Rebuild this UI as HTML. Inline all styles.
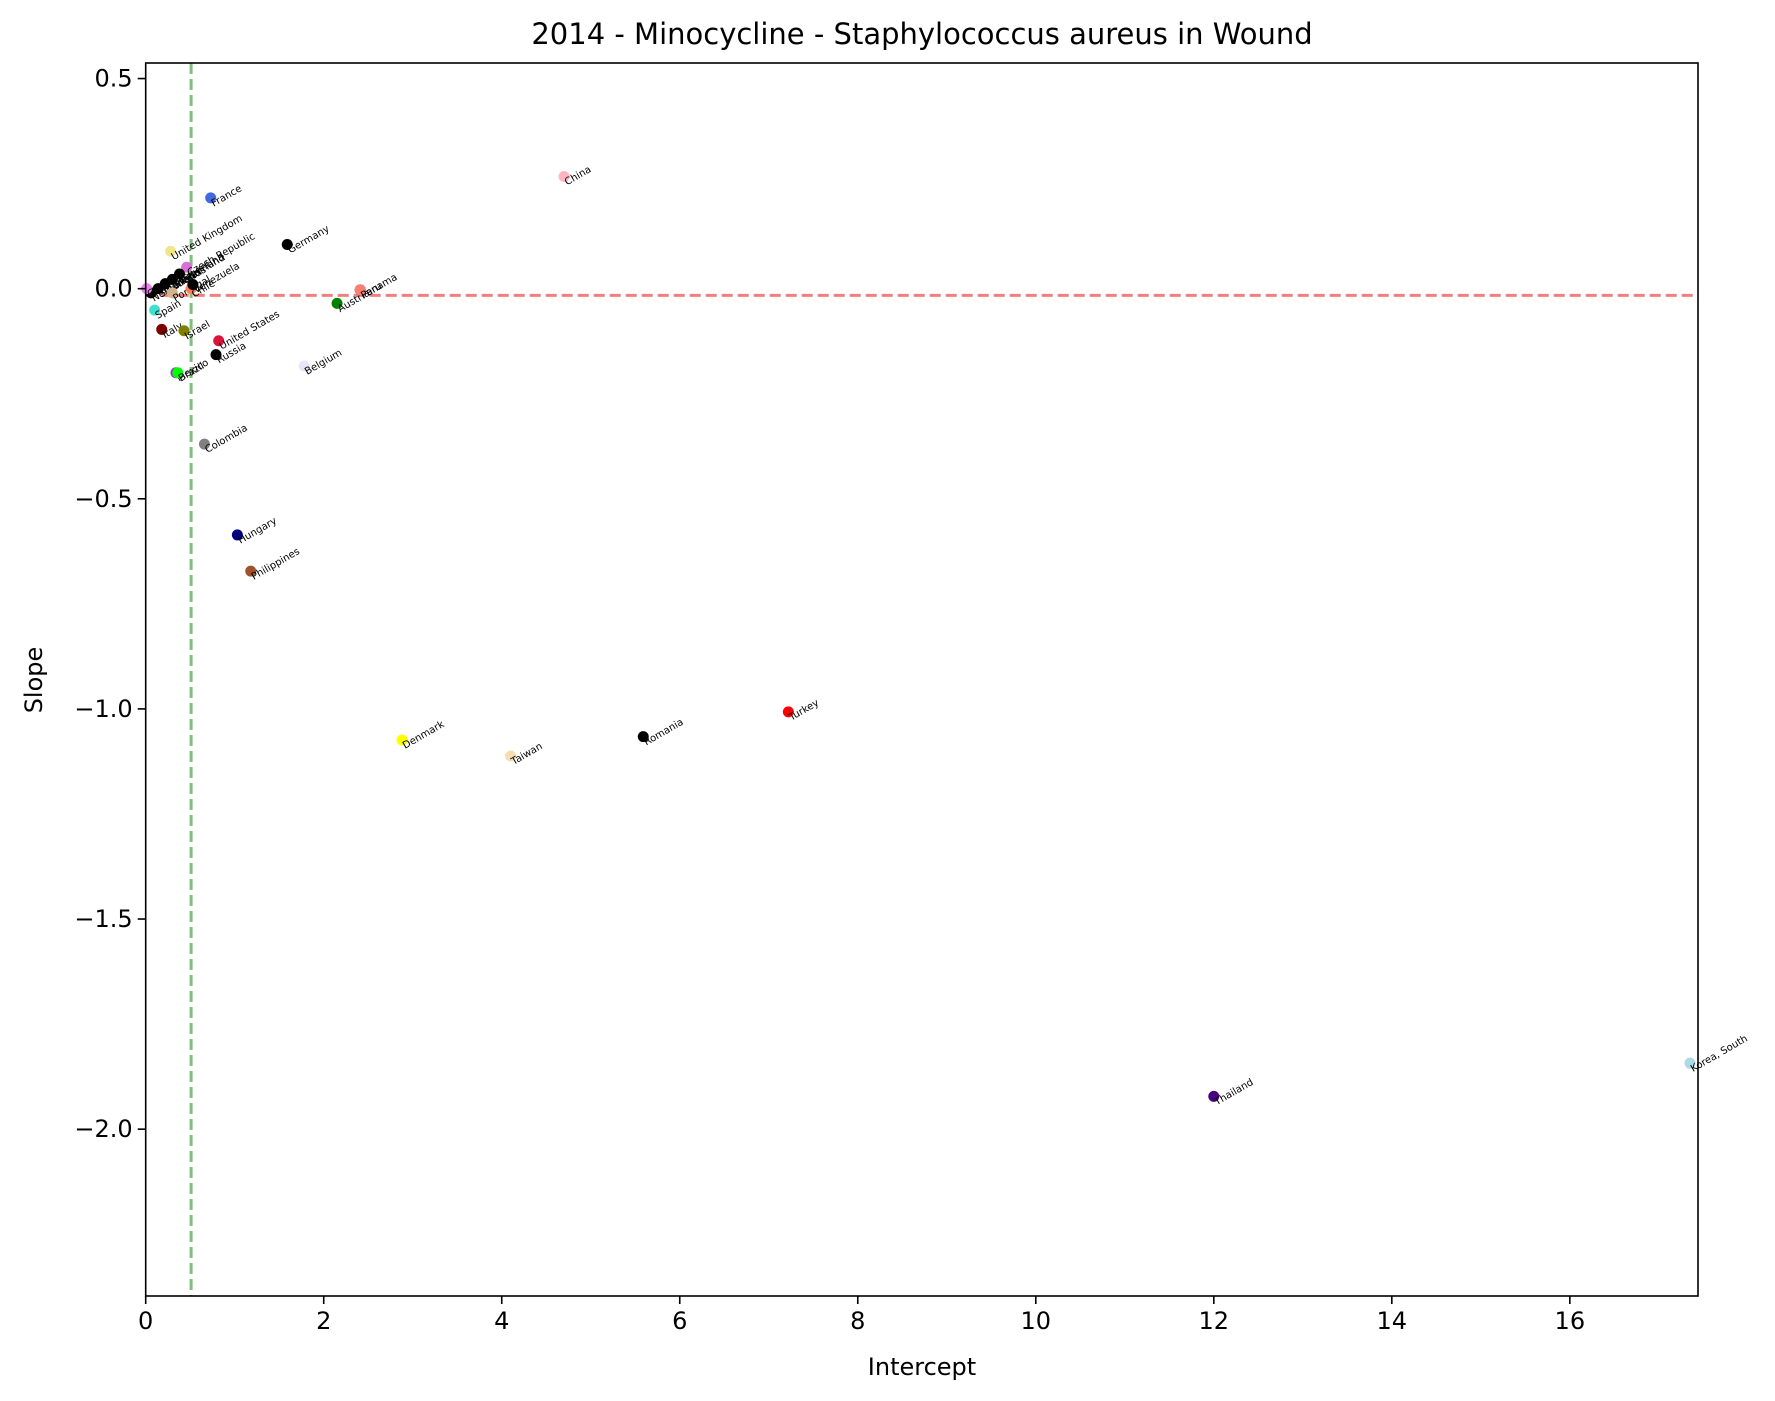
<!DOCTYPE html>
<html><head><meta charset="utf-8"><style>
html,body{margin:0;padding:0;background:#fff}
svg{display:block;font-family:"DejaVu Sans","Liberation Sans",sans-serif}
</style></head><body>
<svg id="chart" width="1775" height="1401" viewBox="0 0 1775 1401" xmlns="http://www.w3.org/2000/svg">
<rect width="1775" height="1401" fill="#fff"/>
<text x="922" y="44" font-size="29" text-anchor="middle">2014 - Minocycline - Staphylococcus aureus in Wound</text>
<text x="922" y="1375" font-size="24" text-anchor="middle">Intercept</text>
<text x="42" y="680" font-size="24" text-anchor="middle" transform="rotate(-90 42 680)">Slope</text>
<g id="plot"></g>
</svg>
<script>
const countries=["France","China","United Kingdom","Germany","Czech Republic","Netherlands","Sweden","Canada","Switzerland","Argentina","Greece","Portugal","Chile","Venezuela","Spain","Italy","Israel","United States","Russia","Mexico","Brazil","Belgium","Austria","Peru","Panama","Colombia","Hungary","Philippines","Denmark","Taiwan","Romania","Turkey","Thailand","Korea, South"];
const intercepts=[0.73,4.70,0.28,1.59,0.46,0.06,0.14,0.22,0.30,0.38,0.01,0.30,0.51,0.53,0.10,0.18,0.43,0.82,0.79,0.34,0.36,1.78,2.15,2.41,2.41,0.66,1.03,1.18,2.88,4.10,5.59,7.22,12.0,17.35];
const slopes=[0.216,0.267,0.089,0.105,0.051,-0.01,0.0,0.012,0.022,0.035,0.0,-0.01,0.0,0.01,-0.051,-0.097,-0.10,-0.124,-0.157,-0.20,-0.20,-0.184,-0.035,-0.003,-0.003,-0.37,-0.586,-0.672,-1.074,-1.112,-1.066,-1.007,-1.922,-1.843];
const colors=["#4169e1","#ffb6c1","#f0e68c","#000","#da70d6","#000","#000","#000","#000","#000","#ee82ee","#d2b48c","#ff7f50","#000","#40e0d0","#800000","#808000","#dc143c","#000","#9932cc","#00ff00","#e6e6fa","#008000","#000","#fa8072","#808080","#000080","#a0522d","#ffff00","#f5deb3","#000","#ff0000","#4b0082","#add8e6"];
const xTicks=[0,2,4,6,8,10,12,14,16];
const yTicks=[0.5,0.0,-0.5,-1.0,-1.5,-2.0];
const hRef=-0.016, vRef=0.51;
const L=145.7,R=1698,T=63,B=1296;
const xMin=0,xMax=17.44,yMin=-2.397,yMax=0.537;
const sx=v=>L+(v-xMin)/(xMax-xMin)*(R-L);
const sy=v=>B-(v-yMin)/(yMax-yMin)*(B-T);
const NS="http://www.w3.org/2000/svg";
const g=document.getElementById('plot');
function mk(t,a,p){const e=document.createElementNS(NS,t);for(const k in a)e.setAttribute(k,a[k]);(p||g).appendChild(e);return e;}
let hl=mk('line',{x1:L,x2:R,y1:sy(hRef),y2:sy(hRef),stroke:'#f08080','stroke-width':3,'stroke-dasharray':'11,5'});


let vl=mk('line',{x1:sx(vRef),x2:sx(vRef),y1:T,y2:B,stroke:'#7fbf7f','stroke-width':3,'stroke-dasharray':'11,5'});


for(let i=0;i<countries.length;i++){
  const x=sx(intercepts[i]),y=sy(slopes[i]);
  const c=mk('circle',{cx:x,cy:y,r:5.5,fill:colors[i]});
  
  
  const tx=x+3,ty=y+9;
  const t=mk('text',{x:tx,y:ty,'font-size':10,fill:'#000',transform:`rotate(-30 ${tx} ${ty})`});
  t.textContent=countries[i];
  
  
}
const fr=mk('rect',{x:L,y:T,width:R-L,height:B-T,fill:'none',stroke:'#000','stroke-width':1.6});


xTicks.forEach(v=>{
  const x=sx(v);
  const tk=mk('line',{x1:x,x2:x,y1:B,y2:B+8,stroke:'#000','stroke-width':1.6});
  
  
  const tl=mk('text',{x:x,y:B+33,'font-size':24,'text-anchor':'middle'});
  tl.textContent=v;
  
  
});
yTicks.forEach(v=>{
  const y=sy(v);
  const tk=mk('line',{x1:L-8,x2:L,y1:y,y2:y,stroke:'#000','stroke-width':1.6});
  
  
  const tl=mk('text',{x:L-13,y:y+8,'font-size':24,'text-anchor':'end'});
  tl.textContent=(v<0?'\u2212':'')+Math.abs(v).toFixed(1);
  
  
});
</script>
</body></html>
